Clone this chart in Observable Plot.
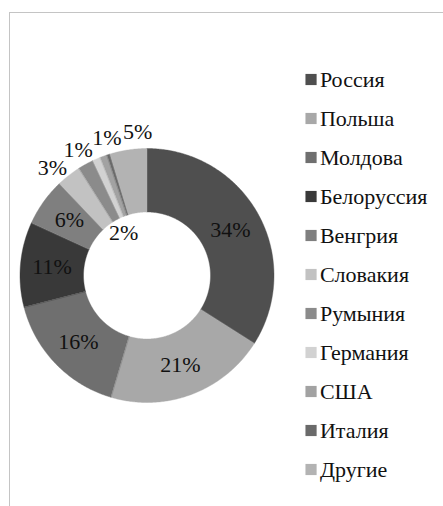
<!DOCTYPE html>
<html>
<head>
<meta charset="utf-8">
<script src="https://cdn.jsdelivr.net/npm/d3@7"></script>
<script src="https://cdn.jsdelivr.net/npm/@observablehq/plot@0.6"></script>
<style>
  html, body { margin: 0; padding: 0; background: #fff; }
  #wrap { position: relative; width: 443px; height: 506px; overflow: hidden; background: #fff; }
  #frame { position: absolute; left: 9px; top: 12px; width: 520px; height: 560px; border: 1px solid #c4c4c4; box-sizing: border-box; }
  #donut { position: absolute; left: 0; top: 0; }
  #legend { position: absolute; left: 295px; top: 35px; }
</style>
</head>
<body>
<div id="wrap">
  <div id="frame"></div>
  <div id="donut"></div>
  <div id="legend"></div>
</div>
<script>
// ---- data ----
const countries = ["Россия", "Польша", "Молдова", "Белоруссия", "Венгрия", "Словакия", "Румыния", "Германия", "США", "Италия", "Другие"];
const shares = [34.0, 20.6, 16.4, 10.8, 6.1, 3.1, 2.0, 1.0, 0.9, 0.4, 4.7];
const colors = ["#4f4f4f", "#a8a8a8", "#6f6f6f", "#393939", "#7f7f7f", "#c2c2c2", "#8b8b8b", "#d2d2d2", "#a2a2a2", "#6a6a6a", "#b3b3b3"];

// ---- geometry helpers (unit coordinates: outer radius = 1) ----
const INNER = 0.5;
const FONT = "Liberation Serif";
const pie = d3.pie().sort(null).value(d => d.share).startAngle(0).endAngle(2 * Math.PI);
const rows = countries.map((name, i) => ({name, share: shares[i]}));
const arcs = pie(rows);

// polygon points for each slice
const pts = [];
for (const a of arcs) {
  const n = Math.max(4, Math.ceil((a.endAngle - a.startAngle) / 0.01));
  for (let k = 0; k <= n; k++) {
    const t = a.startAngle + (a.endAngle - a.startAngle) * k / n;
    pts.push({name: a.data.name, x: Math.sin(t), y: Math.cos(t)});
  }
  for (let k = n; k >= 0; k--) {
    const t = a.startAngle + (a.endAngle - a.startAngle) * k / n;
    pts.push({name: a.data.name, x: INNER * Math.sin(t), y: INNER * Math.cos(t)});
  }
}

// labels: rounded percentage; hide 0%
const total = d3.sum(shares);
const placement = {"Румыния": "hole"};
let labels = arcs.map(a => {
  const pct = Math.round(a.data.share / total * 100);
  const mid = (a.startAngle + a.endAngle) / 2;
  const mode = placement[a.data.name] || (a.data.share < 5.5 ? "out" : "in");
  return {name: a.data.name, text: pct + "%", pct, ang: mid, mode};
}).filter(d => d.pct > 0);

// simple angular dodge for outside labels
const outs = labels.filter(d => d.mode === "out").sort((a, b) => a.ang - b.ang);
const GAP = 12.5 * Math.PI / 180;
for (let it = 0; it < 200; it++) {
  for (let i = 1; i < outs.length; i++) {
    const d = outs[i].ang - outs[i - 1].ang;
    if (d < GAP) {
      const push = (GAP - d) / 2;
      outs[i].ang += push;
      outs[i - 1].ang -= push;
    }
  }
}
const radiusFor = {in: (1 + INNER) / 2, out: 1.13, hole: 0.38};
labels = labels.map(d => ({...d, x: radiusFor[d.mode] * Math.sin(d.ang), y: radiusFor[d.mode] * Math.cos(d.ang)}));

// ---- donut ----
const CX = 146.5, CY = 275, R = 127;
const donut = Plot.plot({
  width: 443, height: 506,
  margin: 0,
  style: {background: "transparent"},
  x: {domain: [-1, 1], range: [CX - R, CX + R], axis: null},
  y: {domain: [-1, 1], range: [CY + R, CY - R], axis: null},
  color: {domain: countries, range: colors},
  marks: [
    Plot.line(pts, {x: "x", y: "y", z: "name", fill: "name", stroke: "name", strokeWidth: 0.4, curve: "linear-closed"}),
    Plot.text(labels, {x: "x", y: "y", text: "text", fontSize: 22, fill: "#111", fontFamily: FONT})
  ]
});
document.getElementById("donut").appendChild(donut);

// ---- legend ----
const legend = Plot.plot({
  width: 148, height: 470,
  margin: 0,
  style: {background: "transparent"},
  x: {domain: [0, 1], range: [0, 148], axis: null},
  y: {type: "point", domain: countries, range: [22, 455], axis: null},
  color: {domain: countries, range: colors},
  marks: [
    Plot.dot(countries, {x: () => 0.105, y: d => d, symbol: "square", r: 6.3, fill: d => d, stroke: null}),
    Plot.text(countries, {x: () => 0.165, y: d => d, text: d => d, textAnchor: "start", fontSize: 22, fill: "#111", fontFamily: FONT})
  ]
});
document.getElementById("legend").appendChild(legend);
</script>
</body>
</html>
